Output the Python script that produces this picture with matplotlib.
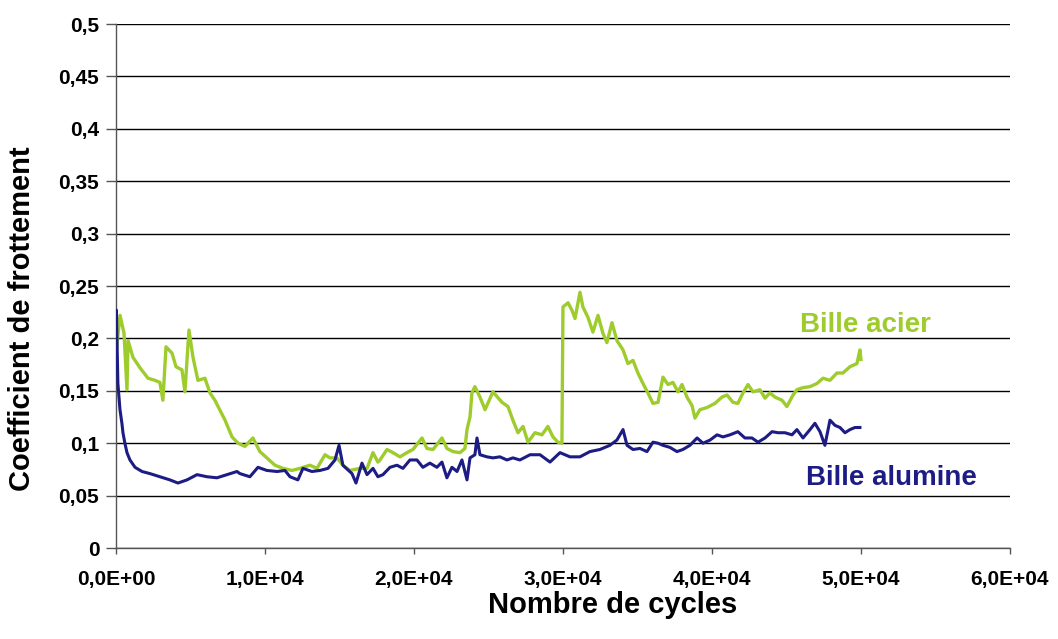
import numpy as np
import matplotlib
matplotlib.use("Agg")
import matplotlib.pyplot as plt
from matplotlib.ticker import FuncFormatter, MultipleLocator

plt.rcParams['font.family'] = ['Liberation Sans', 'DejaVu Sans']

# cycles in thousands, friction coefficient
acier_k = [0.0, 0.27, 0.54, 0.74, 0.81, 1.14, 1.61, 2.15, 2.62, 2.95, 3.15, 3.36, 3.76,
           4.03, 4.43, 4.63, 4.90, 5.17, 5.50, 5.97, 6.31, 6.64, 7.32, 7.79, 8.19, 8.66,
           9.19, 9.66, 10.13, 10.67, 11.21, 11.81, 12.35, 13.02, 13.49, 14.03, 14.36,
           14.83, 15.23, 15.70, 16.38, 16.85, 17.25, 17.58, 17.72, 18.19, 18.59, 19.06,
           19.53, 19.93, 20.54, 20.87, 21.28, 21.88, 22.21, 22.62, 23.09, 23.42, 23.56,
           23.76, 23.89, 24.09, 24.43, 24.77, 25.30, 25.91, 26.31, 26.64, 26.98, 27.32,
           27.65, 28.12, 28.59, 28.99, 29.33, 29.66, 29.93, 30.00, 30.34, 30.60, 30.81,
           31.14, 31.34, 31.68, 32.01, 32.35, 32.68, 32.95, 33.29, 33.62, 34.03, 34.36,
           34.70, 35.03, 35.37, 35.70, 36.04, 36.38, 36.71, 37.05, 37.38, 37.72, 37.99,
           38.32, 38.66, 38.86, 39.19, 39.66, 40.20, 40.67, 41.01, 41.41, 41.74, 42.08,
           42.42, 42.75, 43.22, 43.56, 43.89, 44.23, 44.70, 45.03, 45.44, 45.70, 46.11,
           46.58, 47.05, 47.45, 47.92, 48.39, 48.79, 49.26, 49.73, 49.93, 50.0]
acier_mu = [0.185, 0.222, 0.205, 0.151, 0.198, 0.182, 0.172, 0.162, 0.160, 0.158, 0.141,
            0.192, 0.186, 0.173, 0.170, 0.149, 0.208, 0.182, 0.160, 0.162, 0.148, 0.141,
            0.122, 0.106, 0.100, 0.097, 0.105, 0.092, 0.086, 0.079, 0.076, 0.074, 0.076,
            0.079, 0.076, 0.089, 0.086, 0.086, 0.079, 0.074, 0.076, 0.076, 0.091, 0.082,
            0.084, 0.094, 0.091, 0.087, 0.091, 0.094, 0.105, 0.095, 0.094, 0.105, 0.095,
            0.092, 0.091, 0.095, 0.113, 0.125, 0.148, 0.154, 0.144, 0.132, 0.149, 0.139,
            0.135, 0.122, 0.110, 0.116, 0.101, 0.110, 0.108, 0.116, 0.106, 0.101, 0.100,
            0.230, 0.234, 0.227, 0.219, 0.244, 0.230, 0.220, 0.206, 0.222, 0.205, 0.196,
            0.215, 0.198, 0.189, 0.176, 0.179, 0.167, 0.157, 0.148, 0.138, 0.139, 0.163,
            0.156, 0.158, 0.149, 0.156, 0.144, 0.136, 0.124, 0.132, 0.134, 0.138, 0.144,
            0.146, 0.139, 0.138, 0.148, 0.156, 0.149, 0.151, 0.143, 0.148, 0.144, 0.141,
            0.135, 0.146, 0.151, 0.153, 0.154, 0.157, 0.162, 0.160, 0.167, 0.167, 0.173,
            0.176, 0.189, 0.180]

alumine_k = [0.0, 0.03, 0.07, 0.13, 0.27, 0.40, 0.47, 0.60, 0.74, 0.94, 1.28, 1.75, 2.28,
             2.95, 3.62, 4.16, 4.77, 5.44, 6.11, 6.78, 7.45, 8.12, 8.32, 8.99, 9.53, 10.13,
             10.81, 11.34, 11.68, 12.21, 12.55, 13.15, 13.69, 14.23, 14.70, 14.97, 15.23,
             15.84, 16.11, 16.51, 16.85, 17.25, 17.58, 17.92, 18.39, 18.86, 19.26, 19.73,
             20.20, 20.60, 21.07, 21.54, 21.88, 22.21, 22.55, 22.89, 23.22, 23.56, 23.76,
             24.09, 24.23, 24.43, 24.90, 25.30, 25.77, 26.24, 26.64, 27.11, 27.79, 28.46,
             29.13, 29.80, 30.47, 31.14, 31.81, 32.48, 33.15, 33.62, 34.03, 34.30, 34.70,
             35.17, 35.64, 36.04, 36.38, 36.71, 37.18, 37.65, 38.05, 38.52, 39.00, 39.40,
             39.87, 40.34, 40.74, 41.21, 41.74, 42.21, 42.68, 43.09, 43.56, 44.03, 44.43,
             44.90, 45.37, 45.70, 46.11, 46.58, 46.91, 47.25, 47.58, 47.92, 48.26, 48.59,
             48.93, 49.26, 49.60, 49.93]
alumine_mu = [0.200, 0.227, 0.198, 0.157, 0.132, 0.119, 0.110, 0.100, 0.091, 0.084, 0.077,
              0.073, 0.071, 0.068, 0.065, 0.062, 0.065, 0.070, 0.068, 0.067, 0.070, 0.073,
              0.071, 0.068, 0.077, 0.074, 0.073, 0.074, 0.068, 0.065, 0.076, 0.073, 0.074,
              0.076, 0.084, 0.098, 0.079, 0.071, 0.062, 0.081, 0.070, 0.076, 0.068, 0.070,
              0.077, 0.079, 0.076, 0.084, 0.084, 0.077, 0.081, 0.077, 0.082, 0.067, 0.077,
              0.073, 0.084, 0.065, 0.086, 0.089, 0.105, 0.089, 0.087, 0.086, 0.087, 0.084,
              0.086, 0.084, 0.089, 0.089, 0.082, 0.091, 0.087, 0.087, 0.092, 0.094, 0.098,
              0.103, 0.113, 0.098, 0.094, 0.095, 0.092, 0.101, 0.100, 0.098, 0.096, 0.092,
              0.094, 0.098, 0.105, 0.100, 0.103, 0.108, 0.106, 0.108, 0.111, 0.105, 0.105,
              0.101, 0.105, 0.111, 0.110, 0.110, 0.108, 0.113, 0.105, 0.113, 0.119, 0.111,
              0.098, 0.122, 0.117, 0.115, 0.110, 0.113, 0.115, 0.115]

green = '#9dcc2c'
navy = '#1c1c84'

fig = plt.figure(figsize=(10.58, 6.39), dpi=100)
ax = fig.add_axes([0.1096, 0.1424, 0.845, 0.82])

ax.plot(np.array(acier_k) * 1000, acier_mu, color=green, lw=2.4, zorder=3)
ax.plot(np.array(alumine_k) * 1000, alumine_mu, color=navy, lw=2.2, zorder=4)

ax.set_xlim(0, 60000)
ax.set_ylim(0, 0.5)
ax.xaxis.set_major_locator(MultipleLocator(10000))
ax.yaxis.set_major_locator(MultipleLocator(0.05))
ax.xaxis.set_major_formatter(FuncFormatter(lambda v, p: f"{v:.1E}".replace('.', ',')))
ax.yaxis.set_major_formatter(FuncFormatter(lambda v, p: f"{round(v, 2):g}".replace('.', ',')))

ax.grid(axis='y', color='black', lw=1.0, zorder=1)
for s in ['top', 'right']:
    ax.spines[s].set_visible(False)
for s in ['left', 'bottom']:
    ax.spines[s].set_color('#555555')
    ax.spines[s].set_linewidth(1.0)

ax.tick_params(axis='y', direction='out', length=7, width=1, color='#555555', pad=5)
ax.tick_params(axis='x', direction='out', length=4, width=1, color='#555555', pad=12)
for lab in ax.get_xticklabels() + ax.get_yticklabels():
    lab.set_fontweight('bold')
    lab.set_fontsize(15)

ax.set_xlabel('Nombre de cycles', fontsize=21, fontweight='bold')
ax.set_ylabel('Coefficient de frottement', fontsize=21, fontweight='bold')
ax.xaxis.set_label_coords(0.555, -0.109)
ax.yaxis.set_label_coords(-0.105, 0.437)
ax.xaxis.label.set_va('center')
ax.yaxis.label.set_va('center')

ax.text(45900, 0.213, 'Bille acier', color=green, fontsize=20, fontweight='bold', va='center')
ax.text(46300, 0.067, 'Bille alumine', color=navy, fontsize=20, fontweight='bold', va='center')

fig.savefig('out.png', dpi=100)
